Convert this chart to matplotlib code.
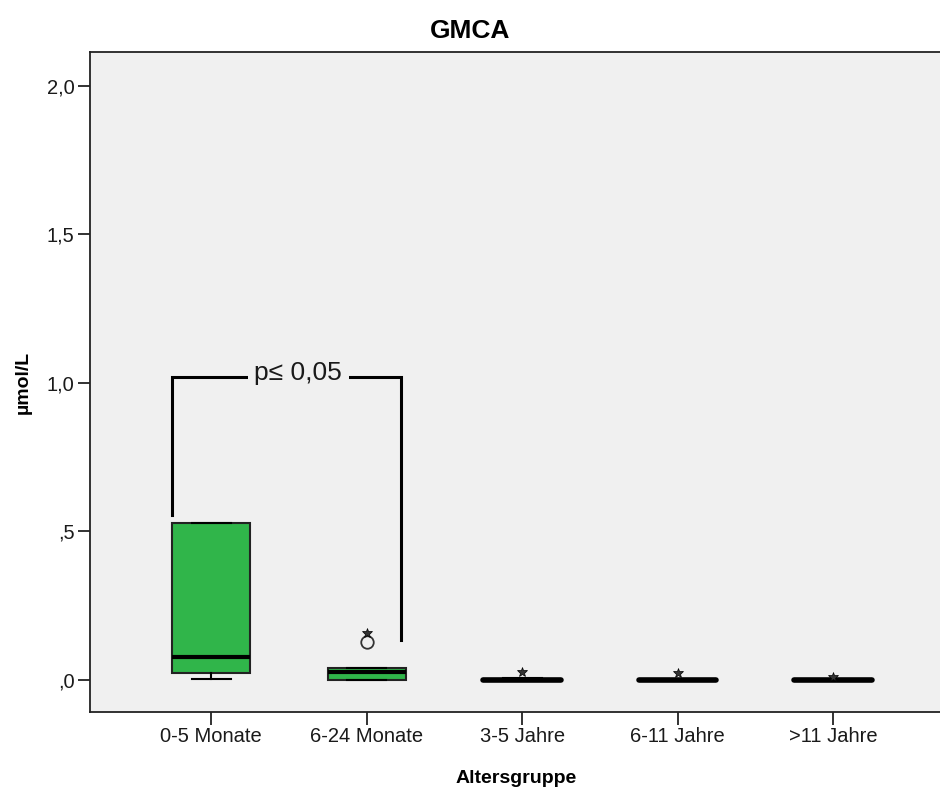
import matplotlib
matplotlib.use("Agg")
import matplotlib.pyplot as plt

plt.rcParams['font.family'] = ['Liberation Sans', 'DejaVu Sans']

# Age groups and box statistics (µmol/L)
groups = ["0-5 Monate", "6-24 Monate", "3-5 Jahre", "6-11 Jahre", ">11 Jahre"]
whis_lo = [0.002, 0.0, 0.0, 0.0, 0.0]
q1 = [0.022, 0.0, 0.0, 0.0, 0.0]
median = [0.078, 0.027, 0.0, 0.0, 0.0]
q3 = [0.528, 0.041, 0.004, 0.0, 0.0]
whis_hi = [0.528, 0.041, 0.008, 0.0, 0.0]
outliers = [[], [0.128], [], [], []]          # circles
extremes = [[], [0.158], [0.028], [0.022], [0.009]]  # stars

yticks = [0.0, 0.5, 1.0, 1.5, 2.0]
ytick_labels = [",0", ",5", "1,0", "1,5", "2,0"]

p_label = "p≤ 0,05"
text_color = "#1a1a1a"

fig = plt.figure(figsize=(9.4, 7.89), dpi=100)
ax = fig.add_axes([90 / 940, 1 - 712 / 789, 1 - 90 / 940 + 0.002, (712 - 52) / 789])
ax.set_facecolor("#f0f0f0")

positions = list(range(1, len(groups) + 1))
stats = []
for i, g in enumerate(groups):
    stats.append(dict(label=g, whislo=whis_lo[i], q1=q1[i], med=median[i],
                      q3=q3[i], whishi=whis_hi[i], fliers=[]))

ax.bxp(stats, positions=positions, widths=0.5, patch_artist=True,
       showfliers=False,
       boxprops=dict(facecolor="#30b54a", edgecolor="#222222", linewidth=1.5),
       medianprops=dict(color="black", linewidth=3),
       whiskerprops=dict(color="black", linewidth=1.5),
       capprops=dict(color="black", linewidth=1.5),
       capwidths=0.25)

# thin groups collapse to a thick line at the median
for i, pos in enumerate(positions):
    if q3[i] - q1[i] < 0.006:
        ax.plot([pos - 0.25, pos + 0.25], [median[i], median[i]],
                color="black", linewidth=4, solid_capstyle="round", zorder=4)

for pos, vals in zip(positions, outliers):
    for v in vals:
        ax.plot(pos, v, marker="o", markersize=9, markerfacecolor="none",
                markeredgecolor="#333333", markeredgewidth=1.3, zorder=5)
for pos, vals in zip(positions, extremes):
    for v in vals:
        ax.plot(pos, v, marker="*", markersize=7.5, markerfacecolor="#333333",
                markeredgecolor="black", markeredgewidth=0.5, zorder=5)

# significance bracket between the first two groups
bx_left, bx_right, by_top = 0.749, 2.22, 1.02
ax.plot([bx_left, bx_left, bx_right, bx_right], [0.555, by_top, by_top, 0.135],
        color="black", linewidth=2.2, solid_joinstyle="miter", zorder=3)
ax.text(1.56, by_top + 0.012, p_label, ha="center", va="center", fontsize=19,
        color=text_color,
        bbox=dict(facecolor="#f0f0f0", edgecolor="none", pad=5), zorder=4)

ax.set_xlim(0.22, 5.70)
ax.set_ylim(-0.108, 2.114)
ax.set_xticks(positions)
ax.set_xticklabels(groups, fontsize=14.5, color=text_color)
ax.set_yticks(yticks)
ax.set_yticklabels(ytick_labels, fontsize=14.5, color=text_color)
ax.tick_params(direction="out", length=9, width=1.3, color="#222222", pad=2)
ax.spines["right"].set_visible(False)
for s in ["left", "bottom", "top"]:
    ax.spines[s].set_linewidth(1.3)
    ax.spines[s].set_color("#222222")

ax.set_xlabel("Altersgruppe", fontsize=14, fontweight="bold", labelpad=17)
ax.set_ylabel("µmol/L", fontsize=14, fontweight="bold", labelpad=11)
fig.text(0.5, 1 - 31 / 789, "GMCA", ha="center", va="center", fontsize=19,
         fontweight="bold")

fig.savefig("out.png", dpi=100, facecolor="white")
